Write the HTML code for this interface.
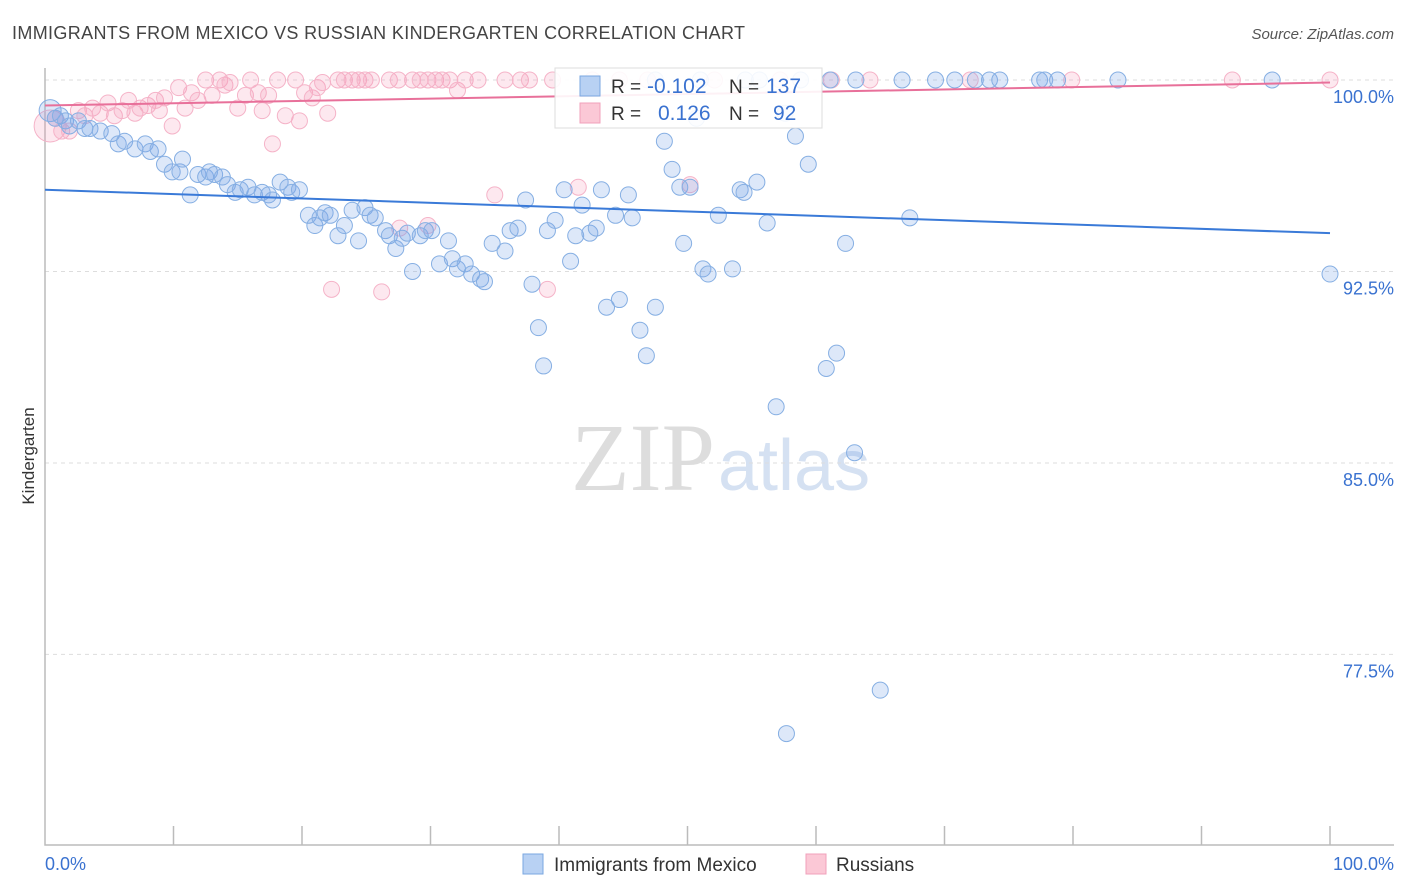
<!DOCTYPE html>
<html><head><meta charset="utf-8"><style>
body{margin:0;background:#fff;font-family:"Liberation Sans",sans-serif;}
#wrap{position:relative;width:1406px;height:892px;overflow:hidden;}
</style></head><body>
<div id="wrap">
<svg id="svg" width="1406" height="892">
<text x="12" y="39" font-size="18" fill="#444" textLength="733">IMMIGRANTS FROM MEXICO VS RUSSIAN KINDERGARTEN CORRELATION CHART</text>
<text x="1394" y="39" font-size="15" fill="#555" font-style="italic" text-anchor="end">Source: ZipAtlas.com</text>
<text x="34" y="456" font-size="17" fill="#333" text-anchor="middle" transform="rotate(-90 34 456)">Kindergarten</text>
<text x="715" y="490" font-size="96" fill="#ddd" text-anchor="end" font-family="Liberation Serif,serif">ZIP</text>
<text x="718" y="490" font-size="72" fill="#d5e1f2">atlas</text>
<g id="grid"></g><g id="axes"></g><g id="pts"></g><g id="lines"></g>
<g>
<rect x="555" y="68" width="267" height="60" fill="#fff" fill-opacity="0.9" stroke="#ddd"/>
<rect x="580" y="76" width="20" height="20" fill="#b8d1f3" stroke="#7aa7e0"/>
<text x="611" y="93" font-size="19" fill="#333">R = </text><text x="647" y="93" font-size="21" fill="#3a72d0">-0.102</text>
<text x="729" y="93" font-size="19" fill="#333">N = </text><text x="766" y="93" font-size="21" fill="#3a72d0">137</text>
<rect x="580" y="103" width="20" height="20" fill="#fbc8d6" stroke="#f0a0bb"/>
<text x="611" y="120" font-size="19" fill="#333">R = </text><text x="658" y="120" font-size="21" fill="#3a72d0">0.126</text>
<text x="729" y="120" font-size="19" fill="#333">N = </text><text x="773" y="120" font-size="21" fill="#3a72d0">92</text>
</g>
<g>
<rect x="523" y="854" width="20" height="20" fill="#b8d1f3" stroke="#7aa7e0"/>
<text x="554" y="871" font-size="19" fill="#333">Immigrants from Mexico</text>
<rect x="806" y="854" width="20" height="20" fill="#fbc8d6" stroke="#f0a0bb"/>
<text x="836" y="871" font-size="19" fill="#333">Russians</text>
</g>
<text x="45" y="870" font-size="18" fill="#3a72d0">0.0%</text>
<text x="1394" y="870" font-size="18" fill="#3a72d0" text-anchor="end">100.0%</text>
</svg></div>
<script>
const yTicks=[100,92.5,85,77.5];
const yTickLabels=["100.0%","92.5%","85.0%","77.5%"];
const blueX=[0.4,0.8,1.2,1.6,1.9,2.6,3.1,3.5,4.3,5.2,5.7,6.2,7.0,7.8,8.2,8.8,9.3,9.9,10.5,10.7,11.3,11.9,12.5,12.8,13.2,13.8,14.2,14.8,15.2,15.8,16.3,16.9,17.4,17.7,18.3,18.9,19.2,19.8,20.5,21.0,21.4,21.8,22.2,22.8,23.3,23.9,24.4,24.9,25.3,25.7,26.5,26.8,27.3,27.8,28.2,28.6,29.2,29.6,30.1,30.7,31.4,31.7,32.1,32.7,33.2,33.9,34.2,34.8,35.8,36.2,36.8,37.4,37.9,38.4,38.8,39.1,39.7,40.4,40.9,41.3,41.8,42.4,42.9,43.3,43.7,44.4,44.7,45.4,45.7,46.3,46.8,47.5,48.2,48.8,49.4,49.7,50.2,51.2,51.6,52.4,53.5,54.1,54.4,55.4,56.2,56.9,57.7,58.4,59.4,60.8,61.6,62.3,63.0,65.0,67.3,100,50.7,57.6,47.5,51.0,54.5,55.6,58.8,61.1,63.1,66.7,69.3,70.8,72.4,73.5,74.3,77.4,77.8,78.8,83.5,95.5];
const blueY=[98.8,98.5,98.6,98.4,98.2,98.4,98.1,98.1,98.0,97.9,97.5,97.6,97.3,97.5,97.2,97.3,96.7,96.4,96.4,96.9,95.5,96.3,96.2,96.4,96.3,96.2,95.9,95.6,95.7,95.8,95.5,95.6,95.5,95.3,96.0,95.8,95.6,95.7,94.7,94.3,94.6,94.8,94.7,93.9,94.3,94.9,93.7,95.0,94.7,94.6,94.1,93.9,93.4,93.8,94.0,92.5,93.9,94.1,94.1,92.8,93.7,93.0,92.6,92.8,92.4,92.2,92.1,93.6,93.3,94.1,94.2,95.3,92.0,90.3,88.8,94.1,94.5,95.7,92.9,93.9,95.1,94.0,94.2,95.7,91.1,94.7,91.4,95.5,94.6,90.2,89.2,91.1,97.6,96.5,95.8,93.6,95.8,92.6,92.4,94.7,92.6,95.7,95.6,96.0,94.4,87.2,74.4,97.8,96.7,88.7,89.3,93.6,85.4,76.1,94.6,92.4,98.5,98.7,100,100,100,100,100,100,100,100,100,100,100,100,100,100,100,100,100,100];
const pinkX=[0.4,0.8,1.3,1.9,2.6,3.1,3.7,4.3,4.9,5.4,6.0,6.5,7.0,7.4,8.0,8.6,8.9,9.3,9.9,10.4,10.9,11.4,11.9,12.5,13.0,13.6,14.0,14.4,15.0,15.6,16.0,16.6,16.9,17.4,17.7,18.1,18.7,19.5,19.8,20.2,20.8,21.2,21.6,22.0,22.3,22.8,23.3,23.9,24.4,24.9,25.4,26.2,26.8,27.5,27.6,28.6,29.2,29.8,29.8,30.4,30.9,31.5,32.1,32.7,33.7,35.0,35.8,37.0,37.7,39.1,39.5,41.5,42.6,44.7,46.9,50.2,52.1,57.2,61.2,64.2,72.0,79.9,92.4,100];
const pinkY=[98.2,98.5,98.0,98.0,98.8,98.6,98.9,98.7,99.1,98.6,98.8,99.2,98.7,98.9,99.0,99.2,98.8,99.3,98.2,99.7,98.9,99.5,99.2,100,99.4,100,99.8,99.9,98.9,99.4,100,99.5,98.8,99.4,97.5,100,98.6,100,98.4,99.5,99.3,99.7,99.9,98.7,91.8,100,100,100,100,100,100,91.7,100,100,94.2,100,100,100,94.3,100,100,100,99.6,100,100,95.5,100,100,100,91.8,100,95.8,100,100,100,95.9,100,100,100,100,100,100,100,100];
const blueTrend=[95.7,94.0];
const pinkTrend=[99.0,99.9];
const NS="http://www.w3.org/2000/svg";
const X=v=>45+v*12.85;
const Y=v=>80+(100-v)*25.53;
function mk(p,tag,at){const e=document.createElementNS(NS,tag);for(const k in at)e.setAttribute(k,at[k]);p.appendChild(e);return e;}
const grid=document.getElementById('grid'),axes=document.getElementById('axes'),pts=document.getElementById('pts'),lines=document.getElementById('lines');
yTicks.forEach((t,i)=>{
 const l=mk(grid,'line',{x1:45,x2:1394,y1:Y(t),y2:Y(t),stroke:'#ddd','stroke-dasharray':'4,4'});
 
 
 const tx=mk(grid,'text',{x:1394,y:Y(t)+23,'font-size':18,fill:'#3a72d0','text-anchor':'end'});
 tx.textContent=yTickLabels[i];
 
 
});
const ax=mk(axes,'path',{d:'M45 68V845H1394',stroke:'#bbb',fill:'none','stroke-width':1.5});


for(let i=1;i<=10;i++){const t=mk(axes,'line',{x1:X(i*10),x2:X(i*10),y1:826,y2:845,stroke:'#bbb','stroke-width':1.5});
 
 }
pinkX.forEach((x,i)=>{const c=mk(pts,'circle',{cx:X(x),cy:Y(pinkY[i]),r:i==0?16:8,fill:'rgba(245,150,180,0.22)',stroke:'#f5b3c8'});
 
 });
blueX.forEach((x,i)=>{const c=mk(pts,'circle',{cx:X(x),cy:Y(blueY[i]),r:i==0?11:8,fill:'rgba(120,165,230,0.25)',stroke:'#86afe3'});
 
 });
const bl=mk(lines,'line',{x1:X(0),x2:X(100),y1:Y(blueTrend[0]),y2:Y(blueTrend[1]),stroke:'#3a7ad8','stroke-width':2});


const pl=mk(lines,'line',{x1:X(0),x2:X(100),y1:Y(pinkTrend[0]),y2:Y(pinkTrend[1]),stroke:'#e8709a','stroke-width':2});


</script>
</body></html>
